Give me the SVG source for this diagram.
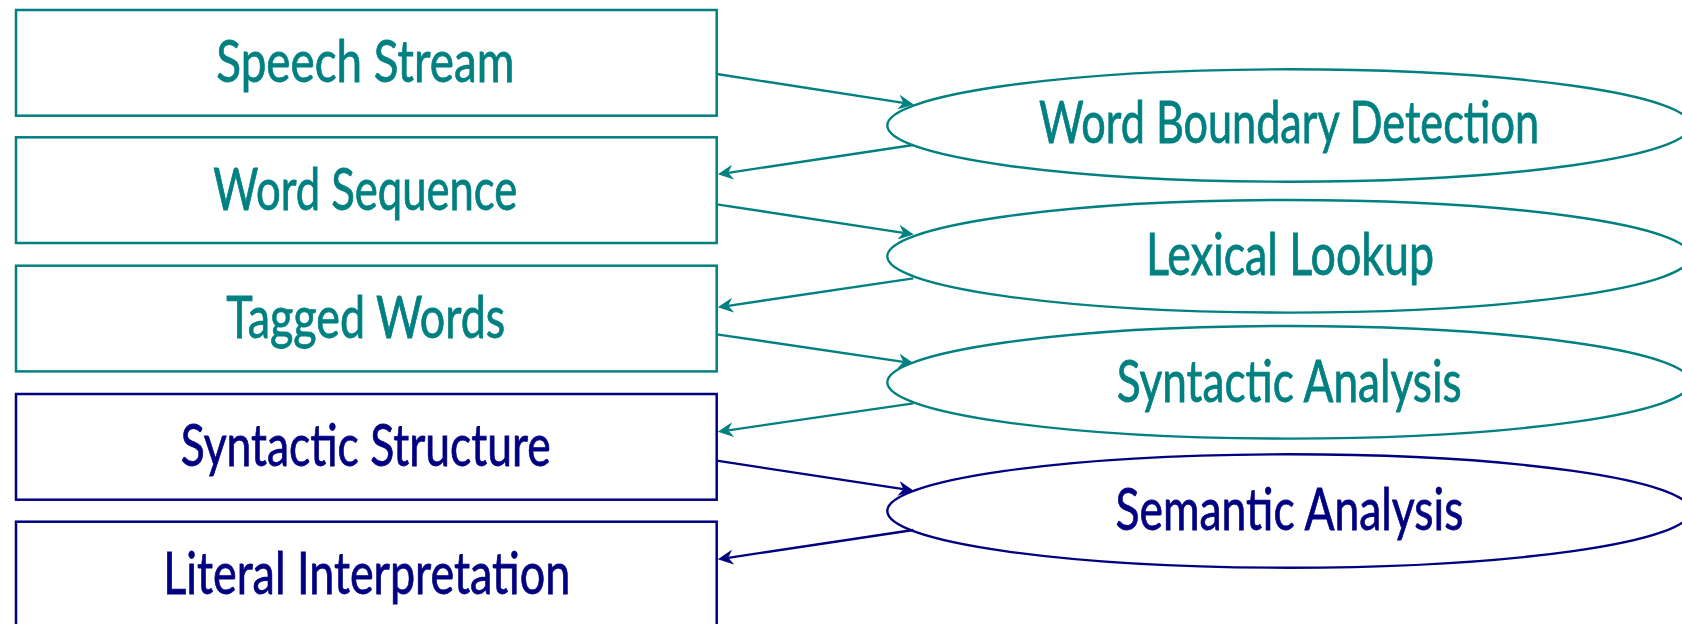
<svg xmlns="http://www.w3.org/2000/svg" width="1682" height="624" viewBox="0 0 1682 624">
<style>
  .box { fill: #ffffff; stroke-width: 2.5; }
  .ell { fill: #ffffff; stroke-width: 2.4; }
  .teal { stroke: #008080; }
  .navy { stroke: #000080; }
  .t { font-family: Lato, "Open Sans", "Liberation Sans", sans-serif; font-size: 58px; text-anchor: middle; stroke-width: 0.8; }
  .tt { fill: #008080; stroke: #008080; }
  .tn { fill: #000080; stroke: #000080; }
  .edge { fill: none; stroke-width: 2.3; }
</style>
<defs>
  <marker id="ahT" markerUnits="userSpaceOnUse" markerWidth="16" markerHeight="15" viewBox="0 0 16 15" refX="5" refY="7.5" orient="auto">
    <path d="M0,0 L15.5,7.5 L0,15 L5,7.5 Z" fill="#008080"/>
  </marker>
  <marker id="ahN" markerUnits="userSpaceOnUse" markerWidth="16" markerHeight="15" viewBox="0 0 16 15" refX="5" refY="7.5" orient="auto">
    <path d="M0,0 L15.5,7.5 L0,15 L5,7.5 Z" fill="#000080"/>
  </marker>
</defs>
<rect width="1682" height="624" fill="#ffffff"/>

<g id="speech-stream">
  <rect class="box teal" x="16" y="10" width="700.7" height="105.7"/>
  <text class="t tt" x="365.3" y="82.3" textLength="298" lengthAdjust="spacingAndGlyphs">Speech Stream</text>
</g>
<g id="word-sequence">
  <rect class="box teal" x="16" y="137.3" width="700.7" height="105.7"/>
  <text class="t tt" x="365.3" y="210" textLength="304" lengthAdjust="spacingAndGlyphs">Word Sequence</text>
</g>
<g id="tagged-words">
  <rect class="box teal" x="16" y="265.7" width="700.7" height="105.7"/>
  <text class="t tt" x="365.8" y="338.3" textLength="279" lengthAdjust="spacingAndGlyphs">Tagged Words</text>
</g>
<g id="syntactic-structure">
  <rect class="box navy" x="16" y="394" width="700.7" height="105.7"/>
  <text class="t tn" x="365.7" y="465.7" textLength="370" lengthAdjust="spacingAndGlyphs">Syntactic Structure</text>
</g>
<g id="literal-interpretation">
  <rect class="box navy" x="16" y="521.7" width="700.7" height="105.7"/>
  <text class="t tn" x="366.7" y="594" textLength="407" lengthAdjust="spacingAndGlyphs">Literal Interpretation</text>
</g>

<g id="word-boundary-detection">
  <ellipse class="ell teal" cx="1289" cy="125.5" rx="401.7" ry="56.2"/>
  <text class="t tt" x="1289" y="143.3" textLength="500" lengthAdjust="spacingAndGlyphs">Word Boundary Detection</text>
</g>
<g id="lexical-lookup">
  <ellipse class="ell teal" cx="1289" cy="256.3" rx="401.7" ry="56.3"/>
  <text class="t tt" x="1290" y="275" textLength="288" lengthAdjust="spacingAndGlyphs">Lexical Lookup</text>
</g>
<g id="syntactic-analysis">
  <ellipse class="ell teal" cx="1289" cy="382.3" rx="401.7" ry="56.3"/>
  <text class="t tt" x="1289.2" y="401.7" textLength="345" lengthAdjust="spacingAndGlyphs">Syntactic Analysis</text>
</g>
<g id="semantic-analysis">
  <ellipse class="ell navy" cx="1289" cy="511" rx="401.7" ry="56.7"/>
  <text class="t tn" x="1289.5" y="530" textLength="348" lengthAdjust="spacingAndGlyphs">Semantic Analysis</text>
</g>

<g id="connectors">
  <path class="edge teal" d="M716.7,74 L903.4,102.8" marker-end="url(#ahT)"/>
  <path class="edge teal" d="M913.3,145 L728.2,172.8" marker-end="url(#ahT)"/>
  <path class="edge teal" d="M716.7,204.3 L903.4,232.8" marker-end="url(#ahT)"/>
  <path class="edge teal" d="M913.3,278.3 L728.2,305.8" marker-end="url(#ahT)"/>
  <path class="edge teal" d="M716.7,334.3 L903.4,361.8" marker-end="url(#ahT)"/>
  <path class="edge teal" d="M913.3,403.3 L728.2,430.3" marker-end="url(#ahT)"/>
  <path class="edge navy" d="M716.7,460.7 L903.4,489.2" marker-end="url(#ahN)"/>
  <path class="edge navy" d="M913.3,530 L728.2,557.8" marker-end="url(#ahN)"/>
</g>
</svg>
